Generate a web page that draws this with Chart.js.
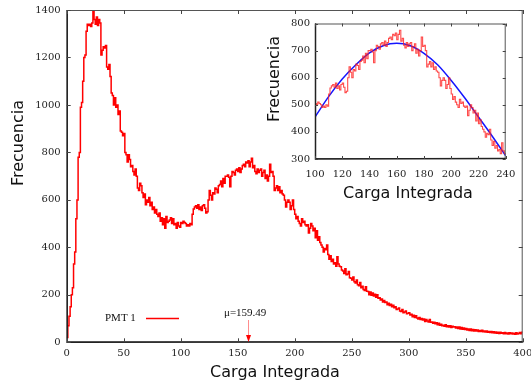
<!DOCTYPE html>
<html><head><meta charset="utf-8">
<script src="https://cdn.jsdelivr.net/npm/chart.js@4/dist/chart.umd.min.js"></script>
<style>
html,body{margin:0;padding:0;background:#fff;}
#wrap{position:relative;width:531px;height:387px;}
canvas{position:absolute;left:0;top:0;}
</style>
</head><body>
<div id="wrap"><canvas id="main" width="531" height="387"></canvas><canvas id="inset" width="531" height="387"></canvas></div>
<script>
// histogram bin width (Carga Integrada units)
const binWidth = 1;
// counts per bin, bins starting at 0,1,2,...,399
const counts = [
  20,70,110,150,200,230,330,380,520,600,
  780,800,990,1010,1100,1200,1210,1310,1340,1335,
  1340,1330,1345,1400,1360,1340,1370,1335,1360,1345,
  1210,1230,1245,1240,1250,1160,1150,1170,1120,1050,
  1040,1000,1030,990,1000,960,975,890,885,870,
  880,800,790,760,790,770,740,745,720,705,
  730,700,650,640,670,660,630,610,625,580,
  600,590,610,575,590,560,570,545,560,540,
  530,545,510,525,495,520,480,530,505,510,
  515,525,500,520,495,500,480,505,490,485,
  505,500,510,505,500,490,495,490,500,495,
  540,562,570,575,565,580,560,570,555,575,
  580,565,545,550,600,640,620,600,630,625,
  650,645,630,660,665,680,655,690,670,700,
  700,705,695,655,700,720,715,705,725,730,
  720,735,715,730,745,750,740,760,755,765,
  740,760,775,735,745,720,710,730,715,725,
  730,700,715,725,690,705,680,700,750,715,
  720,700,640,650,660,640,655,630,640,625,
  620,600,570,590,600,590,560,575,600,560,
  540,520,530,510,500,490,520,505,510,495,
  490,495,460,480,500,490,470,480,440,470,
  430,445,420,410,400,380,395,390,410,370,
  350,365,340,350,330,335,320,360,330,320,
  318,305,300,290,310,285,288,298,272,270,
  262,275,255,250,262,242,238,252,230,236,
  222,218,234,215,214,200,212,198,208,195,
  202,190,200,186,188,178,182,170,176,168,
  170,158,165,155,160,150,156,146,150,138,
  140,145,132,130,138,124,128,132,120,122,
  124,115,118,108,114,104,112,102,98,104,
  96,100,94,98,88,96,90,86,96,84,
  86,80,84,78,82,74,80,72,76,70,
  72,68,74,66,70,64,70,62,68,64,
  66,60,64,58,64,56,62,55,60,54,
  58,52,56,50,56,49,54,48,53,48,
  52,46,50,45,51,44,48,43,48,42,
  45,41,46,40,44,39,43,38,42,37,
  42,38,40,36,41,36,39,35,40,36,
  39,35,38,34,40,35,37,41,36,42
];
// fitted curve (blue)
const fitX = [100,110,120,130,140,150,160,170,180,190,200,210,220,230,240];
const fitY = [455,530,595,648,692,718,727,718,690,648,590,525,455,385,312];
// annotation
const muValue = 159.49;
const legendLabel = 'PMT 1';
const muLabel = '\u03bc=159.49';
const mainXTitle = 'Carga Integrada', mainYTitle = 'Frecuencia';

const histPts = counts.map((c,i)=>({x:i*binWidth,y:c}));
histPts.push({x:counts.length*binWidth, y:counts[counts.length-1]});
const insetPts = histPts.filter(p=>p.x>=99 && p.x<=241);
const fitPts = fitX.map((x,i)=>({x, y:fitY[i]}));

const tickFont = {family:'DejaVu Serif', size:10};
const tickColor = '#222';
const plain = v => v.toString();

function framePlugin(cfg){
  return {id:'frame'+cfg.name, afterDraw(chart){
    const {ctx, chartArea:a, scales:{x,y}} = chart;
    ctx.save();
    ctx.strokeStyle = '#555'; ctx.lineWidth = 1;
    ctx.strokeRect(a.left+0.5, a.top+0.5, a.right-a.left-1, a.bottom-a.top-1);
    ctx.strokeStyle = '#222'; ctx.lineWidth = 1.5;
    ctx.beginPath(); ctx.moveTo(a.left+0.5, a.top); ctx.lineTo(a.left+0.5, a.bottom); ctx.lineTo(a.right, a.bottom-0.5); ctx.stroke();
    ctx.strokeStyle = '#444'; ctx.lineWidth = 1;
    const L = cfg.tick;
    ctx.beginPath();
    x.ticks.forEach(t=>{const p=Math.round(x.getPixelForValue(t.value))+0.5;
      ctx.moveTo(p,a.bottom); ctx.lineTo(p,a.bottom-L); ctx.moveTo(p,a.top); ctx.lineTo(p,a.top+L);});
    y.ticks.forEach(t=>{const p=Math.round(y.getPixelForValue(t.value))+0.5;
      ctx.moveTo(a.left,p); ctx.lineTo(a.left+L,p); ctx.moveTo(a.right,p); ctx.lineTo(a.right-L,p);});
    ctx.stroke();
    ctx.fillStyle = '#111';
    ctx.font = '16px "DejaVu Sans"';
    ctx.textAlign = 'center'; ctx.textBaseline = 'middle';
    ctx.fillText(cfg.xTitle, cfg.xt[0], cfg.xt[1]);
    ctx.save(); ctx.translate(cfg.yt[0], cfg.yt[1]); ctx.rotate(-Math.PI/2); ctx.fillText(cfg.yTitle,0,0); ctx.restore();
    if (cfg.extra) cfg.extra(chart);
    ctx.restore();
  }};
}

function fixedAxes(yw, xh){
  return {
    y:(s)=>{s.width = yw; s.paddingTop=0; s.paddingBottom=0;},
    x:(s)=>{s.height = xh; s.paddingLeft=0; s.paddingRight=0;}
  };
}

const mainFix = fixedAxes(66.7, 44.7);
new Chart(document.getElementById('main'), {
  type:'line',
  data:{datasets:[{data:histPts, borderColor:'#ff0000', borderWidth:1.5, stepped:true, pointRadius:0, fill:false}]},
  options:{
    responsive:false, animation:false, devicePixelRatio:1,
    layout:{padding:{left:0, top:10, right:8.3, bottom:0}},
    plugins:{legend:{display:false}, tooltip:{enabled:false}},
    scales:{
      x:{type:'linear', min:0, max:400, afterFit:mainFix.x,
        ticks:{stepSize:50, font:tickFont, color:tickColor, padding:5, maxRotation:0, callback:plain},
        grid:{display:false, drawTicks:false}, border:{display:false}},
      y:{type:'linear', min:0, max:1400, afterFit:mainFix.y,
        ticks:{stepSize:200, font:tickFont, color:tickColor, padding:6, callback:plain},
        grid:{display:false, drawTicks:false}, border:{display:false}}
    }
  },
  plugins:[framePlugin({name:'main', tick:4, xTitle:mainXTitle, yTitle:mainYTitle, xt:[275,373], yt:[18.5,143],
    extra(chart){
      const {ctx, scales:{x}} = chart;
      ctx.fillStyle = '#111';
      ctx.font = '11px "Liberation Serif"';
      ctx.textAlign='left'; ctx.textBaseline='middle';
      ctx.fillText(legendLabel, 105, 318);
      ctx.strokeStyle='#ff0000'; ctx.lineWidth=1.4;
      ctx.beginPath(); ctx.moveTo(146,318.5); ctx.lineTo(179,318.5); ctx.stroke();
      ctx.fillText(muLabel, 224, 313);
      const px = x.getPixelForValue(muValue);
      ctx.strokeStyle='rgba(255,90,90,0.7)'; ctx.lineWidth=1;
      ctx.beginPath(); ctx.moveTo(px,320); ctx.lineTo(px,336); ctx.stroke();
      ctx.fillStyle='#ff0000';
      ctx.beginPath(); ctx.moveTo(px-2.5,335); ctx.lineTo(px+2.5,335); ctx.lineTo(px,342); ctx.closePath(); ctx.fill();
    }})]
});

const insetFix = fixedAxes(40, 20);
new Chart(document.getElementById('inset'), {
  type:'line',
  data:{datasets:[
    {data:insetPts, borderColor:'rgba(255,30,30,0.8)', borderWidth:1.1, stepped:true, pointRadius:0, fill:false},
    {data:fitPts, borderColor:'#1515ff', borderWidth:1.5, cubicInterpolationMode:'monotone', pointRadius:0, fill:false}
  ]},
  options:{
    responsive:false, animation:false, devicePixelRatio:1,
    layout:{padding:{left:275, top:23.5, right:25.3, bottom:208}},
    plugins:{legend:{display:false}, tooltip:{enabled:false}},
    scales:{
      x:{type:'linear', min:100, max:240, afterFit:insetFix.x,
        ticks:{stepSize:20, font:tickFont, color:tickColor, padding:9, maxRotation:0, callback:plain},
        grid:{display:false, drawTicks:false}, border:{display:false}},
      y:{type:'linear', min:300, max:800, afterFit:insetFix.y,
        ticks:{stepSize:100, font:tickFont, color:tickColor, padding:5, callback:plain},
        grid:{display:false, drawTicks:false}, border:{display:false}}
    }
  },
  plugins:[framePlugin({name:'inset', tick:3, xTitle:mainXTitle, yTitle:mainYTitle, xt:[408,194], yt:[275,79]})]
});
</script>
</body></html>
